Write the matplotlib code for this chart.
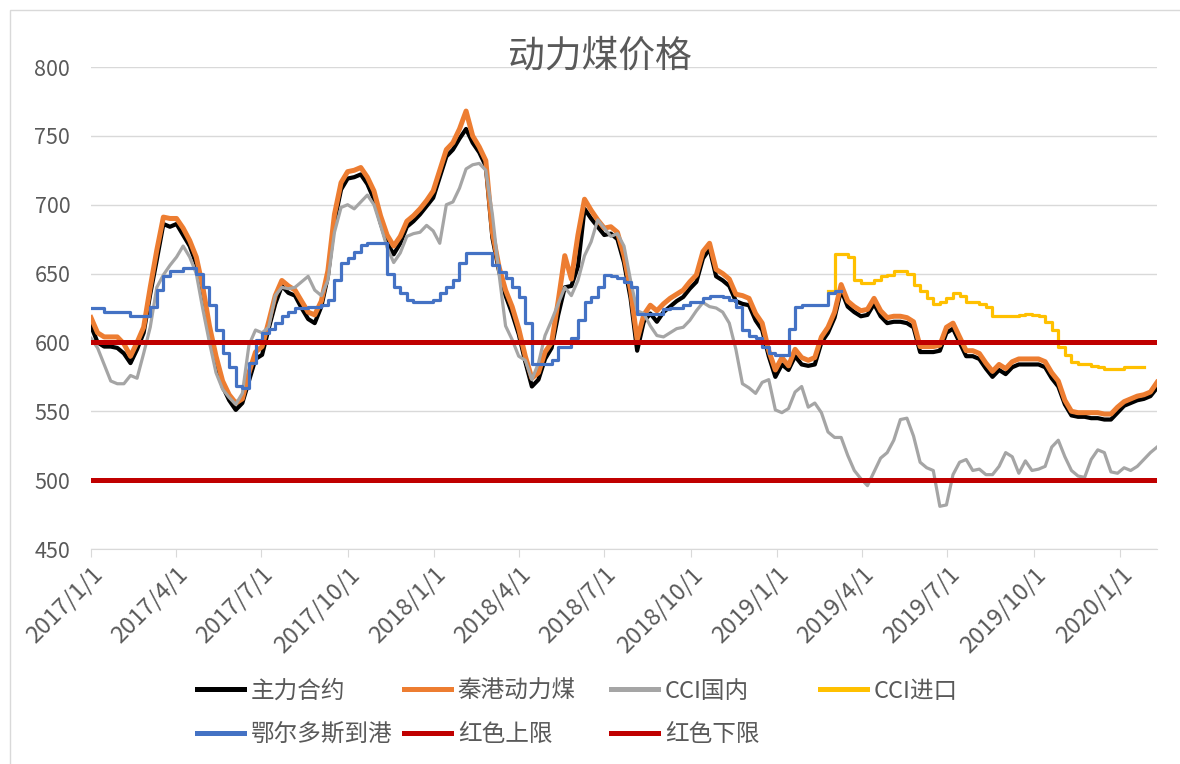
import numpy as np
import pandas as pd
import matplotlib
matplotlib.use('Agg')
import matplotlib.pyplot as plt
from matplotlib.patches import Rectangle

plt.rcParams['font.family'] = ['Noto Sans CJK SC', 'DejaVu Sans']

nan = np.nan

# weekly samples, 2017/1/1 .. 2020/2/9
dates = pd.date_range('2017-01-01', periods=163, freq='7D')

# 主力合约
main_contract = [
    612, 600, 597, 597, 596, 592, 585, 595, 607, 635,
    660, 686, 684, 686, 678, 670, 657, 636, 608, 585,
    568, 558, 551, 556, 572, 588, 591, 610, 628, 641,
    636, 634, 625, 617, 614, 626, 648, 688, 711, 719,
    720, 722, 715, 704, 687, 672, 664, 672, 684, 688,
    693, 699, 705, 720, 735, 740, 748, 755, 745, 738,
    728, 676, 652, 634, 621, 606, 586, 568, 573, 588,
    596, 620, 640, 641, 655, 697, 690, 684, 678, 679,
    675, 658, 632, 594, 615, 621, 615, 622, 626, 630,
    633, 639, 644, 661, 668, 648, 645, 641, 630, 628,
    627, 616, 609, 590, 575, 584, 580, 590, 584, 583,
    584, 600, 607, 618, 638, 626, 622, 619, 620, 628,
    619, 614, 615, 615, 614, 611, 593, 593, 593, 594,
    607, 610, 600, 590, 590, 588, 581, 575, 580, 577,
    582, 584, 584, 584, 584, 582, 574, 568, 555, 547,
    546, 546, 545, 545, 544, 544, 549, 554, 556, 558,
    559, 561, 567,
]

# 秦港动力煤
qhd_coal = [
    618, 607, 604, 604, 604, 599, 590, 600, 611, 640,
    667, 691, 690, 690, 683, 674, 662, 640, 612, 590,
    572, 562, 556, 559, 578, 593, 597, 615, 634, 645,
    641, 638, 630, 622, 620, 630, 652, 693, 716, 724,
    725, 727, 720, 710, 692, 678, 670, 677, 688, 692,
    697, 703, 710, 725, 740, 745, 755, 768, 750, 742,
    732, 680, 655, 638, 626, 610, 590, 574, 578, 593,
    600, 630, 663, 646, 678, 704, 696, 689, 683, 684,
    680, 663, 638, 602, 620, 627, 623, 628, 632, 635,
    638, 644, 649, 666, 672, 653, 650, 646, 635, 634,
    632, 621, 614, 594, 580, 589, 583, 595, 589, 587,
    589, 604, 611, 622, 642, 630, 626, 623, 624, 632,
    623, 618, 619, 619, 618, 615, 597, 597, 597, 598,
    611, 614, 604, 594, 594, 592, 585, 579, 584, 581,
    586, 588, 588, 588, 588, 586, 578, 572, 558, 550,
    549, 549, 549, 549, 548, 548, 553, 557, 559, 561,
    562, 564, 571,
]

# CCI国内
cci_domestic = [
    603, 596, 584, 572, 570, 570, 576, 574, 592, 611,
    640, 649, 656, 662, 670, 662, 650, 624, 600, 578,
    566, 560, 555, 563, 598, 609, 607, 611, 634, 640,
    639, 640, 644, 648, 638, 634, 645, 680, 698, 700,
    697, 702, 707, 700, 685, 669, 658, 665, 677, 679,
    680, 685, 681, 672, 700, 702, 712, 726, 729, 730,
    725, 693, 650, 612, 602, 590, 587, 573, 585, 605,
    616, 628, 640, 634, 645, 663, 673, 689, 683, 677,
    679, 670, 645, 623, 621, 612, 605, 604, 607, 610,
    611, 616, 623, 629, 626, 625, 622, 614, 595, 570,
    567, 563, 571, 573, 551, 549, 552, 564, 568, 553,
    556, 549, 535, 531, 531, 518, 507, 501, 496, 506,
    516, 520, 529, 544, 545, 532, 513, 509, 507, 481,
    482, 504, 513, 515, 507, 508, 504, 504, 510, 520,
    517, 505, 514, 507, 508, 510, 524, 529, 517, 507,
    503, 502, 515, 522, 520, 506, 505, 509, 507, 510,
    515, 520, 524,
]

# CCI进口 (starts 2019/3)
cci_import = [nan] * 112 + [
    637, 664, 664, 662, 645, 643, 643, 645, 648, 649, 652,
    652, 650, 642, 637, 632, 628, 629, 632, 636, 634,
    629, 629, 628, 626, 619, 619, 619, 619, 620, 621,
    620, 619, 615, 609, 597, 591, 586, 584, 584, 583,
    582, 581, 581, 581, 582, 582, 582,
] + [nan] * 3

# 鄂尔多斯到港 (ends 2019/3)
ordos_port = [
    625, 625, 622, 622, 622, 622, 619, 619, 619, 626,
    638, 648, 652, 652, 654, 654, 650, 640, 627, 609,
    592, 582, 568, 567, 585, 602, 607, 610, 614, 619,
    622, 625, 625, 626, 626, 627, 631, 645, 658, 661,
    666, 671, 672, 672, 672, 650, 640, 636, 631, 629,
    629, 629, 631, 636, 640, 645, 658, 665, 665, 665,
    665, 656, 651, 647, 640, 633, 614, 584, 584, 584,
    587, 597, 597, 603, 616, 629, 633, 640, 649, 648,
    647, 644, 640, 621, 621, 621, 621, 624, 625, 625,
    627, 629, 629, 632, 634, 634, 633, 631, 626, 609,
    605, 603, 597, 592, 591, 591, 610, 626, 627, 627,
    627, 627, 636, 637,
] + [nan] * 49

upper_limit = 600
lower_limit = 500

fig = plt.figure(figsize=(11.8, 7.64), dpi=100)
fig.patches.append(Rectangle((10 / 1180, -0.1), 1.2, 1.1 - 10 / 764,
                             transform=fig.transFigure, fill=False,
                             edgecolor='#D9D9D9', lw=1))
ax = fig.add_axes([91 / 1180, 1 - 549 / 764, (1157 - 91) / 1180, (549 - 67) / 764])

l1, = ax.plot(dates, main_contract, color='black', lw=3.0, label='主力合约')
l2, = ax.plot(dates, qhd_coal, color='#ED7D31', lw=3.6, label='秦港动力煤')
l3, = ax.plot(dates, cci_domestic, color='#A5A5A5', lw=2.3, label='CCI国内')
l4, = ax.plot(dates, cci_import, color='#FFC000', lw=2.3, drawstyle='steps-post', label='CCI进口')
l5, = ax.plot(dates, ordos_port, color='#4472C4', lw=2.3, drawstyle='steps-post', label='鄂尔多斯到港')
l6, = ax.plot([dates[0], dates[-1]], [upper_limit, upper_limit], color='#C00000', lw=3.6, label='红色上限')
l7, = ax.plot([dates[0], dates[-1]], [lower_limit, lower_limit], color='#C00000', lw=3.6, label='红色下限')

ax.set_xlim(dates[0], dates[-1])
ax.set_ylim(450, 800)
ax.set_yticks(range(450, 801, 50))
ax.grid(axis='y', color='#D9D9D9', lw=1)
ax.set_axisbelow(True)

ticks = pd.date_range('2017-01-01', '2020-01-01', freq='QS')
ax.set_xticks(ticks)
ax.set_xticklabels([f'{d.year}/{d.month}/{d.day}' for d in ticks],
                   rotation=45, ha='right', va='top', rotation_mode='anchor')

for s in ['top', 'right', 'left']:
    ax.spines[s].set_visible(False)
ax.spines['bottom'].set_color('#D9D9D9')
ax.tick_params(axis='y', length=0, pad=15, labelsize=15.5, labelcolor='#595959')
ax.tick_params(axis='x', length=6, color='#D9D9D9', pad=4, labelsize=17, labelcolor='#595959')

fig.text(0.508, 0.926, '动力煤价格', ha='center', va='center', fontsize=26.5, color='#595959')

# legend: four fixed columns like Excel
cols = [([l1, l5], 193), ([l2, l6], 400), ([l3, l7], 607), ([l4], 816)]
for hs, x in cols:
    leg = fig.legend(handles=hs, labels=[h.get_label() for h in hs],
                     loc='upper left', bbox_to_anchor=(x / 1180 - 0.011, 1 - 663 / 764),
                     frameon=False, fontsize=17, labelcolor='#595959',
                     handlelength=2.0, handletextpad=0.3, labelspacing=0.88,
                     borderpad=0.2)
    for ln in leg.get_lines():
        ln.set_linewidth(3.6)

fig.savefig('out.png', dpi=100)
